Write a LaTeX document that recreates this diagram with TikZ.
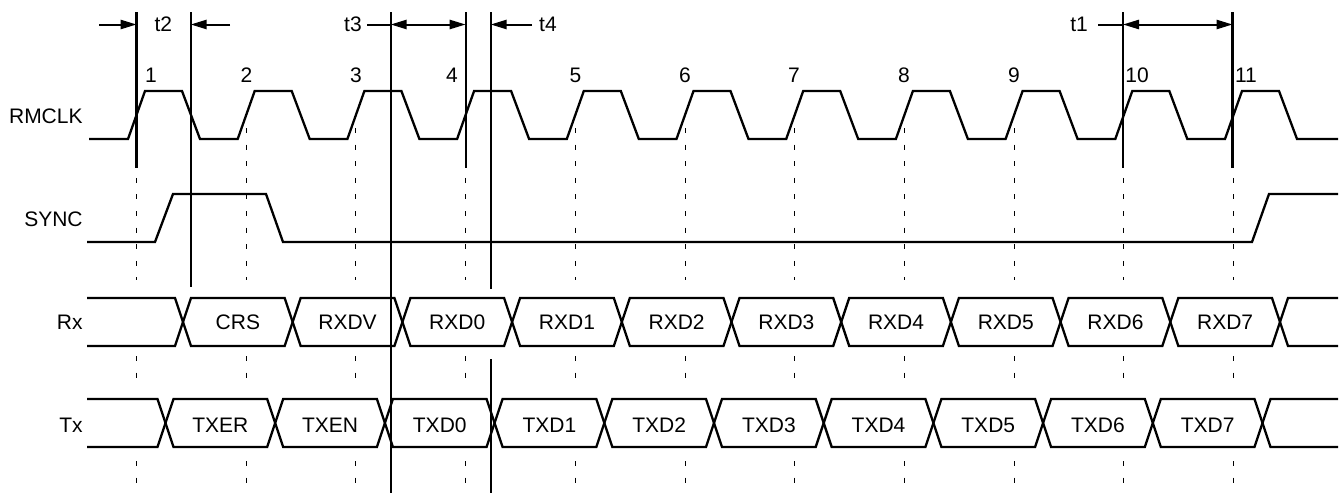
\documentclass[tikz,border=0pt]{standalone}
\usepackage{fontspec}
\setmainfont{Liberation Sans}
\usetikzlibrary{arrows.meta}
\begin{document}
\begin{tikzpicture}[x=0.5pt,y=-0.5pt,
  sig/.style={line width=1.15pt, line join=miter},
  vline/.style={line width=1.1pt},
  dline/.style={line width=0.5pt, dash pattern=on 2.5pt off 5.8pt},
  lbl/.style={font=\fontsize{10.5}{12}\selectfont, inner sep=0pt},
  dimarrow/.style={line width=1pt, -{Triangle[length=8pt,width=4.6pt]}},
  dimboth/.style={line width=1pt, {Triangle[length=8pt,width=4.6pt]}-{Triangle[length=8pt,width=4.6pt]}},
  leader/.style={line width=1pt}
]
\useasboundingbox (0,0) rectangle (1340,493);

% row labels
\node[lbl, anchor=east] (rmclk) at (83,116.5) {RMCLK};
\node[lbl, anchor=east] (sync) at (83,219.5) {SYNC};
\node[lbl, anchor=east] (rx) at (83,322.5) {Rx};
\node[lbl, anchor=east] (tx) at (83,425.3) {Tx};

% dashed clock-edge guides
\foreach \k in {0,...,10} {
  \draw[dline] ({136.5+109.7*\k},128) -- ({136.5+109.7*\k},280);
  \draw[dline] ({136.5+109.7*\k},356) -- ({136.5+109.7*\k},388);
  \draw[dline] ({136.5+109.7*\k},461) -- ({136.5+109.7*\k},493);
}

% RMCLK
\draw[sig] (89,139) foreach \k in {0,...,10} {
  -- ({128+109.7*\k},139) -- ({145+109.7*\k},91) -- ({182+109.7*\k},91) -- ({200+109.7*\k},139) } -- (1338,139);

% clock numbers
\foreach \n/\x in {1/151,2/246.5,3/356,4/452,5/575.5,6/685,7/794,8/904,9/1014,10/1137,11/1246} {
  \node[lbl] (n\n) at (\x,75) {\n};
}

% SYNC
\draw[sig] (87,242) -- (155,242) -- (173,194) -- (266,194) -- (283,242) -- (1252,242) -- (1269,194) -- (1338,194);

% Rx bus
\draw[sig] (87,298) foreach \k in {0,...,10} {
  -- ({183+109.7*\k-8},{298+48*mod(\k,2)}) -- ({183+109.7*\k+8},{346-48*mod(\k,2)}) } -- (1338,346);
\draw[sig] (87,346) foreach \k in {0,...,10} {
  -- ({183+109.7*\k-8},{346-48*mod(\k,2)}) -- ({183+109.7*\k+8},{298+48*mod(\k,2)}) } -- (1338,298);
\foreach \t [count=\i from 0] in {CRS,RXDV,RXD0,RXD1,RXD2,RXD3,RXD4,RXD5,RXD6,RXD7} {
  \node[lbl] (rx\i) at ({183+109.7*\i+54.85},322.5) {\t};
}

% Tx bus
\draw[sig] (87,399) foreach \k in {0,...,10} {
  -- ({165.5+109.7*\k-8},{399+48*mod(\k,2)}) -- ({165.5+109.7*\k+8},{447-48*mod(\k,2)}) } -- (1338,447);
\draw[sig] (87,447) foreach \k in {0,...,10} {
  -- ({165.5+109.7*\k-8},{447-48*mod(\k,2)}) -- ({165.5+109.7*\k+8},{399+48*mod(\k,2)}) } -- (1338,399);
\foreach \t [count=\i from 0] in {TXER,TXEN,TXD0,TXD1,TXD2,TXD3,TXD4,TXD5,TXD6,TXD7} {
  \node[lbl] (tx\i) at ({165.5+109.7*\i+54.85},425.3) {\t};
}

% timing reference lines
\coordinate (L1t) at (136.5,12);  \coordinate (L1b) at (136.5,168);
\coordinate (L2t) at (190.7,12);  \coordinate (L2b) at (190.7,287);
\coordinate (L3t) at (390.7,12);  \coordinate (L3b) at (390.7,493);
\coordinate (L4t) at (465.6,12);  \coordinate (L4b) at (465.6,168);
\coordinate (L5t) at (490.7,12);  \coordinate (L5b) at (490.7,289);
\coordinate (L5c) at (490.7,359); \coordinate (L5d) at (490.7,493);
\coordinate (L6t) at (1123,12);   \coordinate (L6b) at (1123,168);
\coordinate (L7t) at (1232.5,12); \coordinate (L7b) at (1232.5,168);
\foreach \a/\b in {L1t/L1b,L2t/L2b,L3t/L3b,L4t/L4b,L5t/L5b,L5c/L5d,L6t/L6b,L7t/L7b} {
  \draw[vline] (\a) -- (\b);
}

% dimension arrows
\coordinate (A1) at (136.5,24.5); \coordinate (A2) at (190.7,24.5);
\coordinate (A3) at (390.7,24.5); \coordinate (A4) at (465.6,24.5);
\coordinate (A5) at (490.7,24.5); \coordinate (A6) at (1123,24.5);
\coordinate (A7) at (1232.5,24.5);
\coordinate (s2a) at (99,24.5);  \coordinate (s2b) at (230,24.5);
\coordinate (s3) at (367,24.5);  \coordinate (s4) at (532,24.5);
\coordinate (s1) at (1098,24.5);

\node[lbl] (t2) at (163.3,24.5) {t2};
\node[lbl] (t3) at (353,24.5) {t3};
\node[lbl] (t4) at (548,24.5) {t4};
\node[lbl] (t1) at (1079,24.5) {t1};

\draw[dimarrow] (s2a) -- (A1);
\draw[dimarrow] (s2b) -- (A2);
\draw[leader] (s3) -- (A3);
\draw[dimboth] (A3) -- (A4);
\draw[dimarrow] (s4) -- (A5);
\draw[leader] (s1) -- (A6);
\draw[dimboth] (A6) -- (A7);
\end{tikzpicture}
\end{document}
